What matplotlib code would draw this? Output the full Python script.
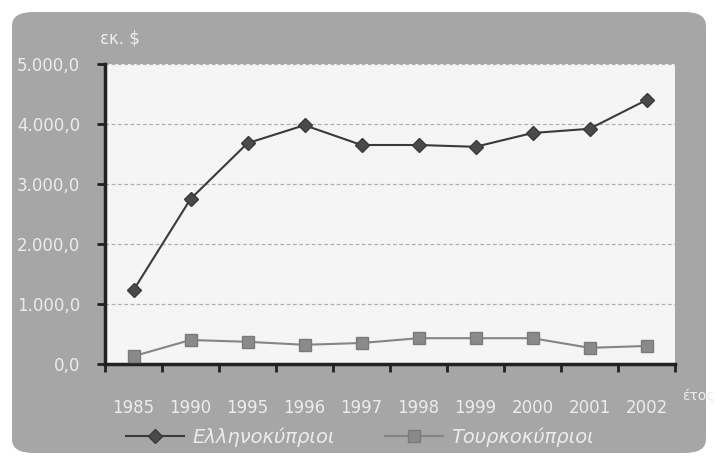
import numpy as np
import matplotlib.pyplot as plt
from matplotlib.patches import FancyBboxPatch

years = ['1985', '1990', '1995', '1996', '1997', '1998', '1999', '2000', '2001', '2002']
greek = [1230, 2750, 3680, 3980, 3650, 3650, 3620, 3850, 3920, 4400]
turkish = [130, 400, 370, 320, 350, 430, 430, 430, 270, 300]
yticks = [0, 1000, 2000, 3000, 4000, 5000]
ytick_labels = ['0,0', '1.000,0', '2.000,0', '3.000,0', '4.000,0', '5.000,0']

txt = '#ececec'
fig = plt.figure(figsize=(7.16, 4.57), dpi=100)
fig.patch.set_facecolor('white')

# grey rounded panel behind everything
panel = FancyBboxPatch((12 / 716, 4 / 457), 694 / 716, 441 / 457,
                       boxstyle='round,pad=0,rounding_size=0.03',
                       transform=fig.transFigure, facecolor='#a6a6a6',
                       edgecolor='none', zorder=-5)
fig.patches.append(panel)

ax = fig.add_axes([105 / 716, 93 / 457, 570 / 716, 300 / 457])
ax.set_facecolor('#f5f5f5')

x = np.arange(len(years))
ax.plot(x, greek, color='#3a3a3a', lw=1.5, marker='D', ms=7,
        mfc='#4a4a4a', mec='#3a3a3a', label='Ελληνοκύπριοι', zorder=3)
ax.plot(x, turkish, color='#858585', lw=1.5, marker='s', ms=8,
        mfc='#8a8a8a', mec='#7a7a7a', label='Τουρκοκύπριοι', zorder=3)

ax.set_xlim(-0.5, len(years) - 0.5)
ax.set_ylim(0, 5000)
ax.set_yticks(yticks)
ax.set_yticklabels(ytick_labels, color=txt, fontsize=12)
ax.set_xticks(np.arange(-0.5, len(years)), labels=[''] * (len(years) + 1))
ax.set_xticks(x, labels=years, minor=True)
ax.tick_params(axis='x', which='major', direction='out', length=6, width=2, color='#222222')
ax.tick_params(axis='x', which='minor', length=0, pad=25, labelsize=12, labelcolor=txt)
ax.tick_params(axis='y', direction='out', length=6, width=2, color='#222222', pad=12)

for y in yticks[1:]:
    ax.axhline(y, color='#b0b0b0', lw=0.9, ls=(0, (3, 2)), zorder=1)

for s in ['top', 'right']:
    ax.spines[s].set_visible(False)
for s in ['left', 'bottom']:
    ax.spines[s].set_color('#222222')
    ax.spines[s].set_linewidth(2.5)

fig.text(100 / 716, 1 - 38 / 457, 'εκ. $', color=txt, fontsize=12, va='center')
fig.text(682 / 716, 1 - 396 / 457, 'έτος', color=txt, fontsize=10, va='center')

leg = fig.legend(loc='center', bbox_to_anchor=(360 / 716, 1 - 437 / 457), ncol=2,
                 frameon=False, handlelength=3.0, handletextpad=0.4, columnspacing=2.6,
                 prop={'style': 'italic', 'size': 14})
for t in leg.get_texts():
    t.set_color(txt)

fig.savefig('out.png', dpi=100)
